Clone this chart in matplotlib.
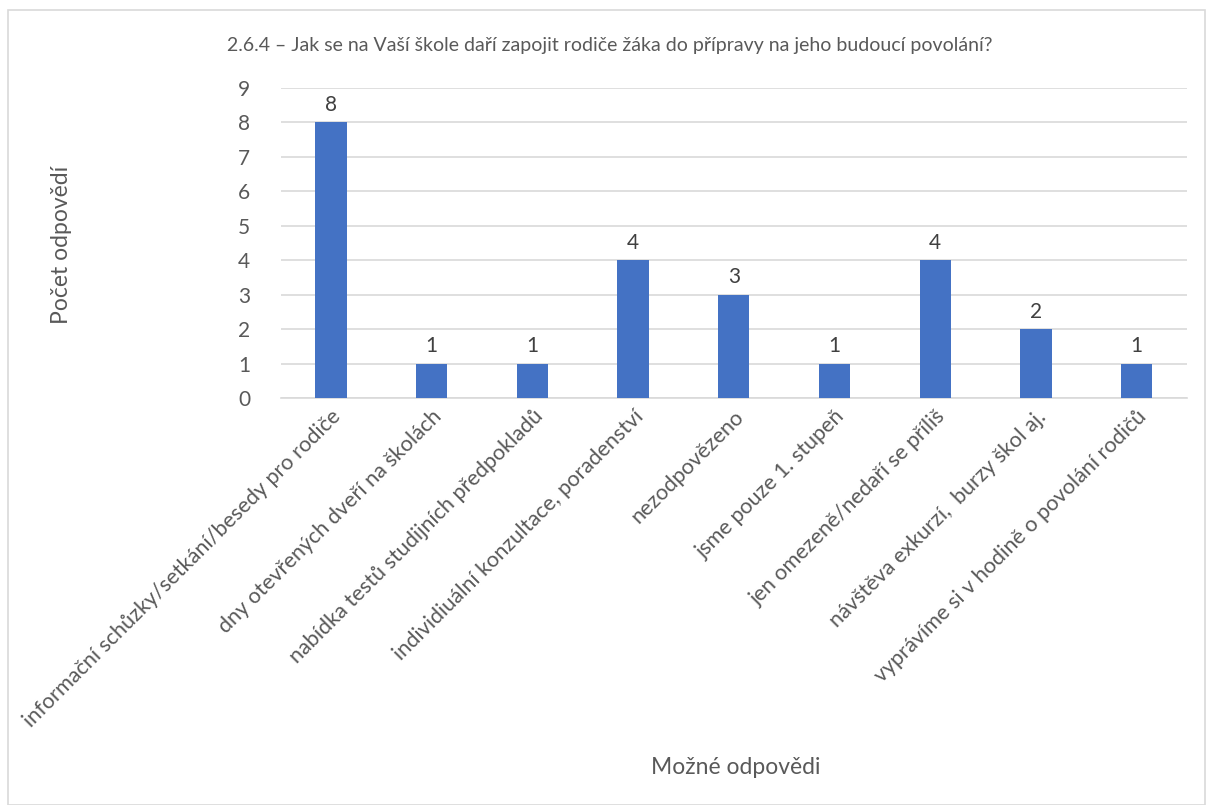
import matplotlib.pyplot as plt
from matplotlib.patches import Rectangle

categories = [
    'informační schůzky/setkání/besedy pro rodiče',
    'dny otevřených dveří na školách',
    'nabídka testů studijních předpokladů',
    'individiuální konzultace, poradenství',
    'nezodpovězeno',
    'jsme pouze 1. stupeň',
    'jen omezeně/nedaří se příliš',
    'návštěva exkurzí,  burzy škol aj.',
    'vyprávíme si v hodině o povolání rodičů',
]
counts = [8, 1, 1, 4, 3, 1, 4, 2, 1]
yticks = list(range(0, 10))

title = '2.6.4 – Jak se na Vaší škole daří zapojit rodiče žáka do přípravy na jeho budoucí povolání?'
ylabel = 'Počet odpovědí'
xlabel = 'Možné odpovědi'

plt.rcParams['font.family'] = ['Lato', 'DejaVu Sans']
text_col = '#595959'

fig = plt.figure(figsize=(12.08, 8.05), dpi=100)
W, H = 1208, 805
# chart frame
fig.patches.append(Rectangle((8 / W, 0), (1205 - 8) / W, 1 - 10 / H, transform=fig.transFigure,
                             fill=False, edgecolor='#D9D9D9', linewidth=1.2))

ax = fig.add_axes([280.6 / W, 1 - 398 / H, (1187 - 280.6) / W, (398 - 88) / H])
x = list(range(len(categories)))
ax.bar(x, counts, width=0.31, color='#4472C4', zorder=3)
for xi, v in zip(x, counts):
    ax.text(xi, v + 0.22, str(v), ha='center', va='bottom', fontsize=15, color='#404040')

ax.set_xlim(-0.5, len(categories) - 0.5)
ax.set_ylim(0, 9)
ax.set_yticks(yticks)
ax.yaxis.grid(True, color='#D9D9D9', linewidth=1.2, zorder=0)
ax.tick_params(axis='y', length=0, labelsize=15, labelcolor=text_col, pad=22)
ax.tick_params(axis='x', length=0, labelsize=15.6, labelcolor=text_col, pad=6)
ax.set_xticks(x)
ax.set_xticklabels(categories, rotation=45, ha='right', rotation_mode='anchor')
for s in ['left', 'right', 'top']:
    ax.spines[s].set_visible(False)
ax.spines['bottom'].set_color('#D9D9D9')
ax.spines['bottom'].set_linewidth(1.2)

fig.text(610 / W, 1 - 45 / H, title, ha='center', va='center', fontsize=14, color=text_col)
fig.text(62 / W, 1 - 245 / H, ylabel, rotation=90, ha='center', va='center', fontsize=16.5, color=text_col)
fig.text(736 / W, 1 - 767 / H, xlabel, ha='center', va='center', fontsize=16.5, color=text_col)

fig.savefig('out.png', dpi=100)
